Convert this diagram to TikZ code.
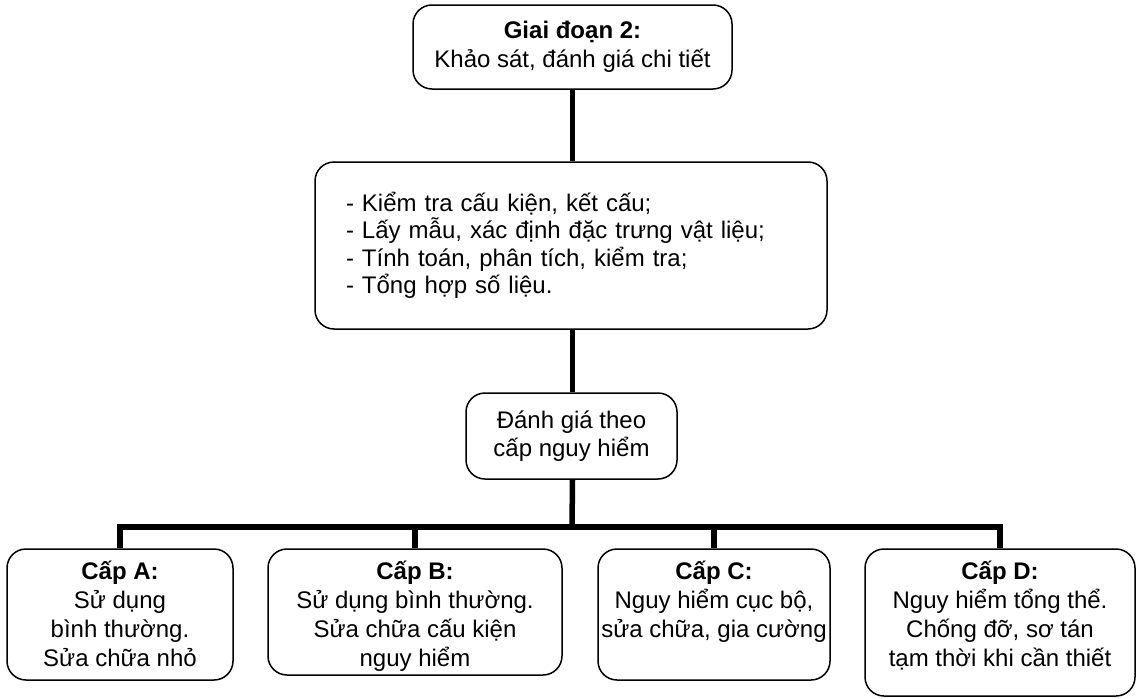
\documentclass[tikz,border=0pt]{standalone}
\usepackage{fontspec}
\setmainfont{Liberation Sans}
\begin{document}
\begin{tikzpicture}[x=1pt,y=-1pt,
  box/.style={draw=black, line width=1.5pt, rounded corners=19pt, inner sep=0pt},
  conn/.style={draw=black, line width=5.5pt},
  txt/.style={align=center, inner sep=0pt, font=\fontsize{24}{29}\selectfont}]
\useasboundingbox (0,0) rectangle (1136,699);
% boxes
\node[box, txt, minimum width=319pt, minimum height=84pt] (top) at (572.5,47)
  {\textbf{Giai đoạn 2:}\\Khảo sát, đánh giá chi tiết};
\node[box, txt, align=left, text width=450pt, inner xsep=31pt, minimum height=167pt, font=\fontsize{24}{27.5}\selectfont] (mid) at (571,245.5)
  {- Kiểm tra cấu kiện, kết cấu;\\- Lấy mẫu, xác định đặc trưng vật liệu;\\- Tính toán, phân tích, kiểm tra;\\- Tổng hợp số liệu.};
\node[box, txt, font=\fontsize{24}{28}\selectfont, minimum width=211pt, minimum height=86pt] (ev) at (571.5,436)
  {Đánh giá theo\\cấp nguy hiểm};
\node[box, minimum width=226pt, minimum height=131pt] (A) at (120,614.5) {};
\node[box, minimum width=294pt, minimum height=126pt] (B) at (415,612) {};
\node[box, minimum width=232pt, minimum height=131pt] (C) at (714,614.5) {};
\node[box, minimum width=270pt, minimum height=147pt] (D) at (1000,622.5) {};
% texts of the level boxes
\node[txt, anchor=north, yshift=-7pt] (At) at (A.north)
  {\rule{0pt}{24pt}\textbf{Cấp A:}\\Sử dụng\\bình thường.\\Sửa chữa nhỏ};
\node[txt, anchor=north, yshift=-7pt] (Bt) at (B.north)
  {\rule{0pt}{24pt}\textbf{Cấp B:}\\Sử dụng bình thường.\\Sửa chữa cấu kiện\\nguy hiểm};
\node[txt, anchor=north, yshift=-7pt] (Ct) at (C.north)
  {\rule{0pt}{24pt}\textbf{Cấp C:}\\Nguy hiểm cục bộ,\\sửa chữa, gia cường};
\node[txt, anchor=north, yshift=-7pt] (Dt) at (D.north)
  {\rule{0pt}{24pt}\textbf{Cấp D:}\\Nguy hiểm tổng thể.\\Chống đỡ, sơ tán\\tạm thời khi cần thiết};
% connectors
\coordinate (bar) at (572,527);
\draw[conn] (top.south) -- (top.south |- mid.north);
\draw[conn] (top.south |- mid.south) -- (top.south |- ev.north);
\draw[conn] (top.south |- ev.south) -- (bar);
\draw[conn] (A.north) -- (A.north |- bar) -- (D.north |- bar) -- (D.north);
\draw[conn] (B.north) -- (B.north |- bar);
\draw[conn] (C.north) -- (C.north |- bar);
\end{tikzpicture}
\end{document}
